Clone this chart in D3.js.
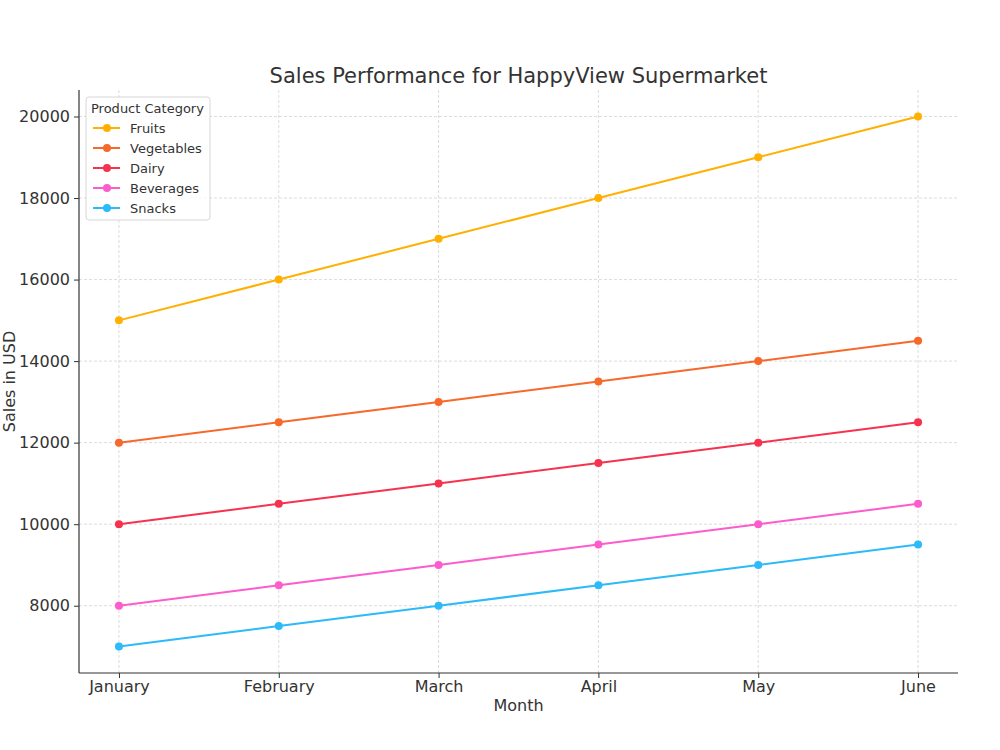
<!DOCTYPE html>
<html>
<head>
<meta charset="utf-8">
<script src="https://cdn.jsdelivr.net/npm/d3@7"></script>
<style>
  body { margin: 0; background: #fff; }
  svg text { font-family: "DejaVu Sans", sans-serif; fill: #333; }
</style>
</head>
<body>
<div class="holder"></div>
<script>
var months = ['January', 'February', 'March', 'April', 'May', 'June']
var categories = ['Fruits', 'Vegetables', 'Dairy', 'Beverages', 'Snacks']
var fruits = [15000, 16000, 17000, 18000, 19000, 20000]
var vegetables = [12000, 12500, 13000, 13500, 14000, 14500]
var dairy = [10000, 10500, 11000, 11500, 12000, 12500]
var beverages = [8000, 8500, 9000, 9500, 10000, 10500]
var snacks = [7000, 7500, 8000, 8500, 9000, 9500]
var yTicks = [8000, 10000, 12000, 14000, 16000, 18000, 20000]
var colors = ['#ffb000', '#f7692a', '#f5334f', '#fc5ccc', '#2cbaf8']

var seriesList = [fruits, vegetables, dairy, beverages, snacks]

var margin = {left: 79, right: 42, top: 90, bottom: 77}
var width = 1000 - margin.left - margin.right,
height = 750 - margin.top - margin.bottom

var chart = d3.select('.holder')
  .append('svg')
  .attr('width', 1000)
  .attr('height', 750)

var g = chart.append('g')
  .attr('transform', 'translate(' + margin.left + ',' + margin.top + ')')

var xScale = d3.scaleLinear()
  .domain([-0.25, months.length - 1 + 0.25])
  .range([0, width])

var yScale = d3.scaleLinear()
  .domain([6350, 20650])
  .range([height, 0])

// grid
g.append('g').selectAll('line')
  .data(months)
  .enter().append('line')
  .attr('x1', function(d, i){ return xScale(i) })
  .attr('x2', function(d, i){ return xScale(i) })
  .attr('y1', 0).attr('y2', height)
  .attr('stroke', '#d3d3d3').attr('stroke-width', 0.8)
  .attr('stroke-dasharray', '3,2')

g.append('g').selectAll('line')
  .data(yTicks)
  .enter().append('line')
  .attr('x1', 0).attr('x2', width)
  .attr('y1', function(d){ return yScale(d) })
  .attr('y2', function(d){ return yScale(d) })
  .attr('stroke', '#d3d3d3').attr('stroke-width', 0.8)
  .attr('stroke-dasharray', '3,2')

// axes
var xAxis = d3.axisBottom(xScale)
  .tickValues(d3.range(months.length))
  .tickSize(5)
  .tickPadding(3)
  .tickFormat(function(d){ return months[d] })

var xChart = g.append('g')
  .attr('transform', 'translate(0,' + height + ')')
  .call(xAxis)

var yAxis = d3.axisLeft(yScale)
  .tickValues(yTicks)
  .tickSize(5)
  .tickPadding(4)
  .tickFormat(d3.format('d'))

var yChart = g.append('g').call(yAxis)

;[xChart, yChart].forEach(function(ax){
  ax.select('.domain').attr('stroke', '#333').attr('stroke-width', 1.2)
  ax.selectAll('.tick line').attr('stroke', '#333').attr('stroke-width', 1)
  ax.selectAll('.tick text')
    .style('font-family', '"DejaVu Sans", sans-serif')
    .style('font-size', '16px')
    .attr('fill', '#333')
})
// keep the left and bottom spines only
xChart.select('.domain').attr('d', 'M0,0H' + width)
yChart.select('.domain').attr('d', 'M0,' + height + 'V0')

// lines
var line = d3.line()
  .x(function(d, i){ return xScale(i) })
  .y(function(d){ return yScale(d) })

seriesList.forEach(function(vals, k){
  g.append('path')
    .datum(vals)
    .attr('fill', 'none')
    .attr('stroke', colors[k])
    .attr('stroke-width', 2)
    .attr('d', line)

  g.selectAll('.dot' + k)
    .data(vals)
    .enter().append('circle')
    .attr('cx', function(d, i){ return xScale(i) })
    .attr('cy', function(d){ return yScale(d) })
    .attr('r', 4)
    .attr('fill', colors[k])
})

// labels
chart.append('text')
  .attr('x', margin.left + width / 2).attr('y', 83)
  .attr('text-anchor', 'middle')
  .style('font-size', '21px')
  .text('Sales Performance for HappyView Supermarket')

chart.append('text')
  .attr('x', margin.left + width / 2).attr('y', 711)
  .attr('text-anchor', 'middle')
  .style('font-size', '16px')
  .text('Month')

chart.append('text')
  .attr('transform', 'translate(15,' + (margin.top + height / 2) + ') rotate(-90)')
  .attr('text-anchor', 'middle')
  .style('font-size', '16px')
  .text('Sales in USD')

// legend
var legend = chart.append('g')
  .attr('id', 'legend')
  .attr('transform', 'translate(86,97)')

legend.append('rect')
  .attr('width', 124).attr('height', 123)
  .attr('rx', 3)
  .attr('fill', '#fff').attr('fill-opacity', 0.8)
  .attr('stroke', '#d6d6d6')

legend.append('text')
  .attr('x', 5).attr('y', 16)
  .style('font-size', '13px')
  .text('Product Category')

categories.forEach(function(c, k){
  var y = 31 + k * 20
  legend.append('line')
    .attr('x1', 7).attr('x2', 34)
    .attr('y1', y).attr('y2', y)
    .attr('stroke', colors[k]).attr('stroke-width', 2)
  legend.append('circle')
    .attr('cx', 21).attr('cy', y).attr('r', 4)
    .attr('fill', colors[k])
  legend.append('text')
    .attr('x', 44).attr('y', y + 4.5)
    .style('font-size', '13px')
    .text(c)
})
</script>
</body>
</html>
